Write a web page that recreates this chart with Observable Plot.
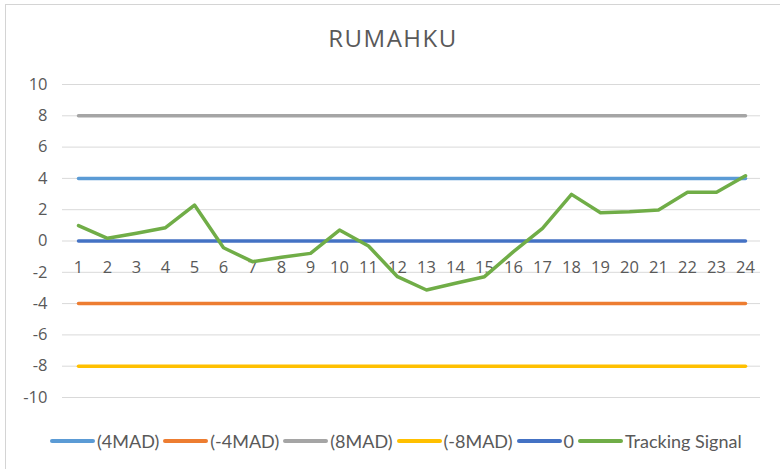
<!DOCTYPE html>
<html>
<head>
<meta charset="utf-8">
<script src="https://cdn.jsdelivr.net/npm/d3@7"></script>
<script src="https://cdn.jsdelivr.net/npm/@observablehq/plot@0.6"></script>
<style>
  html, body { margin: 0; padding: 0; background: #fff; overflow: hidden; }
  #wrap { position: relative; width: 780px; height: 469px; overflow: hidden; }
  #border { position: absolute; left: 5px; top: 4px; width: 800px; height: 500px; border: 1.5px solid #d4d4d4; box-sizing: border-box; }
  #title { position: absolute; left: 0; top: 0; width: 786px; height: 60px; text-align: center;
    font-family: "Open Sans", sans-serif; font-size: 24px; letter-spacing: 1.5px; color: #595959; line-height: 76px; }
  #chart { position: absolute; left: 0; top: 60px; }
  #legend { position: absolute; left: 50px; top: 420px; height: 42px; display: flex; align-items: center;
    font-family: Lato, sans-serif; font-size: 18px; color: #595959; white-space: nowrap; }
  .sw { display: inline-block; width: 45px; height: 4px; border-radius: 2px; margin-right: 2px; }
  .lab { margin-right: 4px; }
</style>
</head>
<body>
<div id="wrap">
  <div id="border"></div>
  <div id="title">RUMAHKU</div>
  <div id="chart"></div>
  <div id="legend"></div>
</div>
<script>
const categories = [1,2,3,4,5,6,7,8,9,10,11,12,13,14,15,16,17,18,19,20,21,22,23,24];
const mad4Pos   = [4,4,4,4,4,4,4,4,4,4,4,4,4,4,4,4,4,4,4,4,4,4,4,4];
const mad4Neg   = [-4,-4,-4,-4,-4,-4,-4,-4,-4,-4,-4,-4,-4,-4,-4,-4,-4,-4,-4,-4,-4,-4,-4,-4];
const mad8Pos   = [8,8,8,8,8,8,8,8,8,8,8,8,8,8,8,8,8,8,8,8,8,8,8,8];
const mad8Neg   = [-8,-8,-8,-8,-8,-8,-8,-8,-8,-8,-8,-8,-8,-8,-8,-8,-8,-8,-8,-8,-8,-8,-8,-8];
const zeroLine  = [0,0,0,0,0,0,0,0,0,0,0,0,0,0,0,0,0,0,0,0,0,0,0,0];
const tracking  = [0.98,0.17,0.49,0.85,2.3,-0.43,-1.32,-1.04,-0.79,0.7,-0.32,-2.28,-3.13,-2.7,-2.28,-0.68,0.81,2.98,1.81,1.87,1.98,3.11,3.11,4.17];
const yTicks    = [-10,-8,-6,-4,-2,0,2,4,6,8,10];

const seriesNames  = ["(4MAD)", "(-4MAD)", "(8MAD)", "(-8MAD)", "0", "Tracking Signal"];
const seriesColors = ["#5B9BD5", "#ED7D31", "#A5A5A5", "#FFC000", "#4472C4", "#70AD47"];
const seriesValues = [mad4Pos, mad4Neg, mad8Pos, mad8Neg, zeroLine, tracking];

const rows = seriesNames.flatMap((name, i) =>
  categories.map((c, j) => ({series: name, x: c, y: seriesValues[i][j]})));

const chart = Plot.plot({
  width: 780,
  height: 360,
  marginLeft: 62,
  marginRight: 20,
  marginTop: 24,
  marginBottom: 23,
  style: {fontFamily: "'Open Sans', sans-serif", fontSize: "16px", color: "#595959", background: "transparent"},
  x: {type: "point", domain: categories, padding: 0.5, align: 0.5, axis: null},
  y: {domain: [-10, 10], ticks: yTicks},
  color: {domain: seriesNames, range: seriesColors},
  marks: [
    Plot.gridY(yTicks, {stroke: "#d9d9d9", strokeOpacity: 1, strokeWidth: 1}),
    Plot.axisY(yTicks, {tickSize: 0, tickPadding: 15, fontSize: 16.5, fill: "#595959", label: null, tickFormat: d => String(d)}),
    Plot.text(categories, {x: d => d, y: () => 0, dy: 27, text: d => String(d), fill: "#595959", fontSize: 16.5}),
    Plot.line(rows, {x: "x", y: "y", z: "series", stroke: "series", strokeWidth: 3.5, strokeLinecap: "round", strokeLinejoin: "round"})
  ]
});
document.getElementById("chart").appendChild(chart);

const legend = document.getElementById("legend");
seriesNames.forEach((name, i) => {
  const sw = document.createElement("span");
  sw.className = "sw";
  sw.style.background = seriesColors[i];
  const lab = document.createElement("span");
  lab.className = "lab";
  lab.textContent = name;
  legend.appendChild(sw);
  legend.appendChild(lab);
});
</script>
</body>
</html>
